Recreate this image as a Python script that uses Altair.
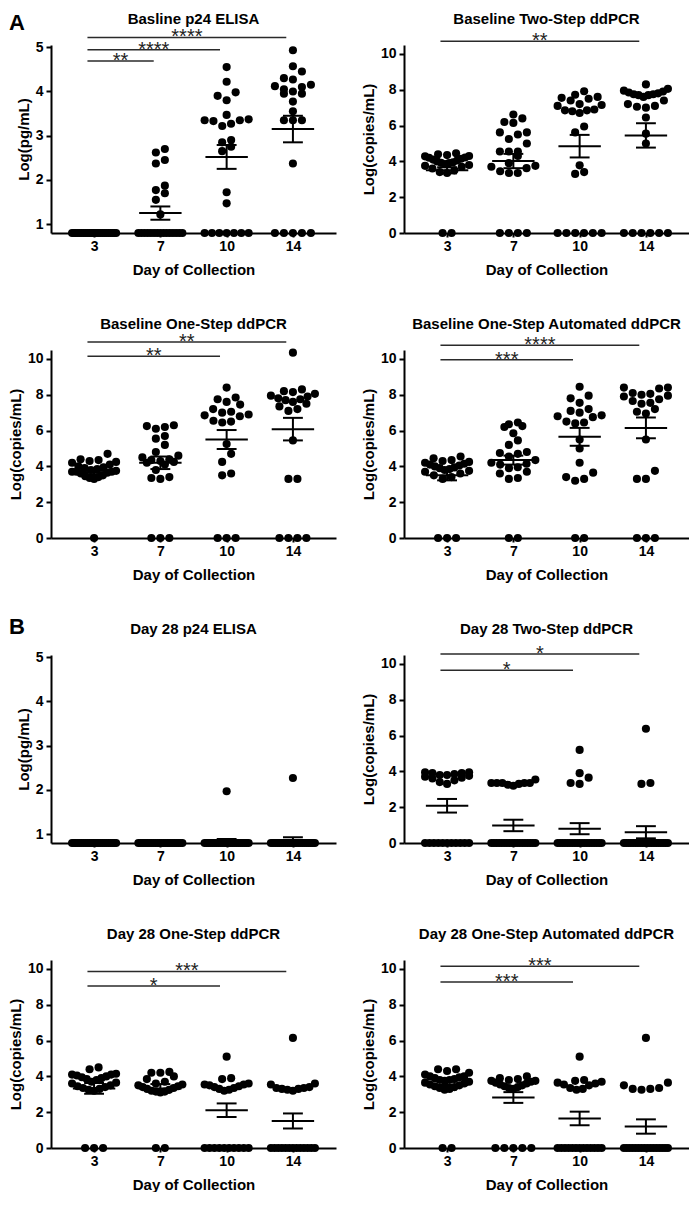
import altair as alt
import pandas as pd

FONT = "Liberation Sans"
DAYS = ["3", "7", "10", "14"]
W, H = 285, 188
XDOM = [-0.65, 3.65]

# ---------------- values ----------------
# A1  Basline p24 ELISA  (log pg/mL)
bp24_d3 = [0.8, 0.8, 0.8, 0.8, 0.8, 0.8, 0.8, 0.8, 0.8, 0.8, 0.8, 0.8,
           0.8, 0.8, 0.8, 0.8, 0.8, 0.8, 0.8, 0.8, 0.8, 0.8, 0.8, 0.8]
bp24_d7 = [2.70, 2.62, 2.45, 2.37, 1.87, 1.77, 1.70, 1.55, 1.22,
           0.8, 0.8, 0.8, 0.8, 0.8, 0.8, 0.8, 0.8, 0.8, 0.8, 0.8, 0.8, 0.8, 0.8, 0.8]
bp24_d10 = [4.55, 4.22, 3.98, 3.90, 3.80, 3.47, 3.37, 3.35, 3.33, 3.35, 3.22, 3.27,
            2.90, 2.85, 2.75, 2.65, 1.72, 1.47, 0.8, 0.8, 0.8, 0.8, 0.8, 0.8, 0.8]
bp24_d14 = [4.93, 4.57, 4.45, 4.30, 4.27, 4.15, 4.12, 4.10, 4.05, 4.00, 3.95, 3.95,
            3.77, 3.55, 3.35, 3.35, 3.35, 2.37, 0.8, 0.8, 0.8, 0.8, 0.8]
bp24_mean = [0.80, 1.25, 2.52, 3.15]
bp24_sem = [0.0, 0.15, 0.27, 0.30]

# A2  Baseline Two-Step ddPCR
b2s_d3 = [4.45, 4.40, 4.35, 4.30, 4.28, 4.22, 4.20, 4.15, 4.10, 4.05, 4.00, 3.95,
          3.92, 3.90, 3.85, 3.80, 3.75, 3.70, 3.60, 3.50, 3.40, 3.35, 0, 0]
b2s_d7 = [6.62, 6.40, 6.20, 6.15, 5.62, 5.62, 5.50, 5.25, 5.00, 4.55, 4.55, 4.55,
          4.30, 3.90, 3.75, 3.70, 3.62, 3.45, 3.35, 3.35, 0, 0, 0, 0]
b2s_d10 = [7.92, 7.72, 7.60, 7.55, 7.50, 7.40, 7.20, 7.15, 7.10, 6.90, 6.85, 6.85,
           6.80, 6.70, 5.95, 5.62, 3.78, 3.40, 3.30, 0, 0, 0, 0, 0, 0]
b2s_d14 = [8.30, 8.05, 7.95, 7.90, 7.85, 7.80, 7.75, 7.75, 7.70, 7.70, 7.60, 7.40,
           7.20, 7.10, 7.05, 7.00, 6.45, 5.55, 5.00, 0, 0, 0, 0, 0, 0]
b2s_mean = [3.50, 4.02, 4.85, 5.45]
b2s_sem = [0.17, 0.40, 0.63, 0.68]

# A3  Baseline One-Step ddPCR
b1s_d3 = [4.70, 4.40, 4.35, 4.30, 4.25, 4.20, 4.10, 4.00, 3.95, 3.90, 3.85, 3.80,
          3.75, 3.70, 3.70, 3.70, 3.65, 3.60, 3.50, 3.45, 3.40, 3.35, 3.30, 0]
b1s_d7 = [6.30, 6.25, 6.20, 6.10, 5.70, 5.55, 5.20, 4.80, 4.60, 4.50, 4.40, 4.35,
          4.30, 4.25, 4.20, 4.10, 3.80, 3.40, 3.35, 3.30, 0, 0, 0]
b1s_d10 = [8.40, 7.85, 7.75, 7.60, 7.45, 7.20, 7.05, 7.00, 6.90, 6.85, 6.80, 6.55,
           6.50, 6.45, 5.25, 4.70, 4.25, 3.60, 3.50, 0, 0, 0]
b1s_d14 = [10.35, 8.30, 8.20, 8.15, 8.05, 7.95, 7.90, 7.80, 7.75, 7.70, 7.60, 7.50,
           7.35, 7.20, 7.10, 5.45, 3.30, 3.30, 0, 0, 0, 0]
b1s_mean = [3.65, 4.20, 5.50, 6.08]
b1s_sem = [0.10, 0.35, 0.53, 0.63]

# A4  Baseline One-Step Automated ddPCR
b1a_d3 = [4.55, 4.45, 4.35, 4.30, 4.25, 4.20, 4.15, 4.10, 4.05, 4.00, 3.95, 3.90,
          3.85, 3.80, 3.75, 3.70, 3.60, 3.50, 3.40, 3.30, 0, 0, 0]
b1a_d7 = [6.45, 6.35, 6.25, 6.20, 5.85, 5.45, 5.20, 4.80, 4.75, 4.70, 4.55, 4.35,
          4.20, 4.15, 4.10, 3.95, 3.90, 3.70, 3.60, 3.35, 3.30, 0, 0]
b1a_d10 = [8.45, 7.95, 7.80, 7.55, 7.20, 7.10, 7.00, 6.85, 6.80, 6.75, 6.50, 6.45,
           6.40, 5.50, 5.00, 4.20, 3.65, 3.40, 3.30, 3.20, 0, 0]
b1a_d14 = [8.40, 8.40, 8.35, 8.10, 8.05, 8.00, 7.95, 7.90, 7.75, 7.65, 7.55, 7.50,
           7.20, 7.05, 6.95, 5.50, 3.75, 3.30, 3.30, 0, 0, 0]
b1a_mean = [3.50, 4.35, 5.65, 6.15]
b1a_sem = [0.28, 0.25, 0.50, 0.58]

# B1  Day 28 p24 ELISA
dp24_d3 = [0.8, 0.8, 0.8, 0.8, 0.8, 0.8, 0.8, 0.8, 0.8, 0.8, 0.8, 0.8,
           0.8, 0.8, 0.8, 0.8, 0.8, 0.8, 0.8, 0.8, 0.8, 0.8, 0.8, 0.8]
dp24_d7 = [0.8, 0.8, 0.8, 0.8, 0.8, 0.8, 0.8, 0.8, 0.8, 0.8, 0.8, 0.8,
           0.8, 0.8, 0.8, 0.8, 0.8, 0.8, 0.8, 0.8, 0.8, 0.8, 0.8, 0.8]
dp24_d10 = [1.97, 0.8, 0.8, 0.8, 0.8, 0.8, 0.8, 0.8, 0.8, 0.8, 0.8, 0.8,
            0.8, 0.8, 0.8, 0.8, 0.8, 0.8, 0.8, 0.8, 0.8, 0.8, 0.8, 0.8]
dp24_d14 = [2.27, 0.8, 0.8, 0.8, 0.8, 0.8, 0.8, 0.8, 0.8, 0.8, 0.8, 0.8,
            0.8, 0.8, 0.8, 0.8, 0.8, 0.8, 0.8, 0.8, 0.8, 0.8, 0.8]
dp24_mean = [0.80, 0.80, 0.86, 0.87]
dp24_sem = [0.0, 0.0, 0.03, 0.06]

# B2  Day 28 Two-Step ddPCR
d2s_d3 = [3.95, 3.95, 3.90, 3.90, 3.85, 3.80, 3.80, 3.75, 3.70, 3.65, 3.60, 3.50,
          3.40, 3.30, 0, 0, 0, 0, 0, 0, 0, 0, 0, 0, 0]
d2s_d7 = [3.55, 3.35, 3.35, 3.35, 3.35, 3.35, 3.30, 3.25, 3.20,
          0, 0, 0, 0, 0, 0, 0, 0, 0, 0, 0, 0, 0, 0, 0, 0, 0, 0]
d2s_d10 = [5.20, 3.90, 3.65, 3.35, 3.30,
           0, 0, 0, 0, 0, 0, 0, 0, 0, 0, 0, 0, 0, 0, 0, 0, 0, 0, 0]
d2s_d14 = [6.38, 3.35, 3.30,
           0, 0, 0, 0, 0, 0, 0, 0, 0, 0, 0, 0, 0, 0, 0, 0, 0, 0, 0, 0]
d2s_mean = [2.08, 0.98, 0.80, 0.60]
d2s_sem = [0.38, 0.32, 0.31, 0.34]

# B3  Day 28 One-Step ddPCR
d1s_d3 = [4.50, 4.40, 4.15, 4.10, 4.10, 4.05, 4.00, 3.95, 3.90, 3.85, 3.80, 3.70,
          3.65, 3.60, 3.50, 3.45, 3.40, 3.35, 3.30, 3.25, 3.20, 0, 0, 0]
d1s_d7 = [4.25, 4.20, 4.20, 4.00, 3.85, 3.70, 3.60, 3.55, 3.50, 3.45, 3.40, 3.35,
          3.30, 3.25, 3.20, 3.15, 3.15, 3.10, 0, 0]
d1s_d10 = [5.10, 3.90, 3.85, 3.60, 3.55, 3.55, 3.50, 3.45, 3.40, 3.35, 3.30, 3.25,
           3.20, 0, 0, 0, 0, 0, 0, 0, 0, 0, 0]
d1s_d14 = [6.15, 3.60, 3.55, 3.40, 3.35, 3.35, 3.30, 3.30, 3.25, 3.20,
           0, 0, 0, 0, 0, 0, 0, 0, 0, 0, 0, 0, 0]
d1s_mean = [3.33, 3.33, 2.11, 1.51]
d1s_sem = [0.30, 0.24, 0.38, 0.42]

# B4  Day 28 One-Step Automated ddPCR
d1a_d3 = [4.40, 4.40, 4.30, 4.20, 4.10, 4.00, 4.00, 3.95, 3.90, 3.85, 3.80, 3.80,
          3.75, 3.70, 3.65, 3.60, 3.55, 3.50, 3.45, 3.40, 3.35, 3.30, 3.25, 0, 0]
d1a_d7 = [4.00, 3.90, 3.85, 3.80, 3.75, 3.75, 3.70, 3.65, 3.60, 3.55, 3.50, 3.45,
          3.40, 3.35, 3.30, 0, 0, 0, 0, 0]
d1a_d10 = [5.10, 3.80, 3.75, 3.70, 3.65, 3.60, 3.55, 3.50, 3.35, 3.30, 3.25,
           0, 0, 0, 0, 0, 0, 0, 0, 0, 0, 0, 0, 0]
d1a_d14 = [6.15, 3.65, 3.50, 3.35, 3.30, 3.30, 3.25,
           0, 0, 0, 0, 0, 0, 0, 0, 0, 0, 0, 0, 0, 0, 0, 0]
d1a_mean = [3.52, 2.82, 1.65, 1.20]
d1a_sem = [0.25, 0.30, 0.38, 0.40]

# significance brackets: (from group, to group, level, label)
bp24_sig = [(0, 1, 4.69, "**"), (0, 2, 4.94, "****"), (0, 3, 5.22, "****")]
b2s_sig = [(0, 3, 10.71, "**")]
b1s_sig = [(0, 2, 10.15, "**"), (0, 3, 10.95, "**")]
b1a_sig = [(0, 2, 9.95, "***"), (0, 3, 10.76, "****")]
dp24_sig = []
d2s_sig = [(0, 2, 9.65, "*"), (0, 3, 10.56, "*")]
d1s_sig = [(0, 2, 9.05, "*"), (0, 3, 9.86, "***")]
d1a_sig = [(0, 2, 9.27, "***"), (0, 3, 10.15, "***")]

P24_DOM, P24_TICKS = [0.8, 5.05], [1, 2, 3, 4, 5]
PCR_DOM, PCR_TICKS = [0, 10.5], [0, 2, 4, 6, 8, 10]

PANELS = [
    ("Basline p24 ELISA", "Log(pg/mL)", P24_DOM, P24_TICKS,
     [bp24_d3, bp24_d7, bp24_d10, bp24_d14], bp24_mean, bp24_sem, bp24_sig, "A"),
    ("Baseline Two-Step ddPCR", "Log(copies/mL)", PCR_DOM, PCR_TICKS,
     [b2s_d3, b2s_d7, b2s_d10, b2s_d14], b2s_mean, b2s_sem, b2s_sig, None),
    ("Baseline One-Step ddPCR", "Log(copies/mL)", PCR_DOM, PCR_TICKS,
     [b1s_d3, b1s_d7, b1s_d10, b1s_d14], b1s_mean, b1s_sem, b1s_sig, None),
    ("Baseline One-Step Automated ddPCR", "Log(copies/mL)", PCR_DOM, PCR_TICKS,
     [b1a_d3, b1a_d7, b1a_d10, b1a_d14], b1a_mean, b1a_sem, b1a_sig, None),
    ("Day 28 p24 ELISA", "Log(pg/mL)", P24_DOM, P24_TICKS,
     [dp24_d3, dp24_d7, dp24_d10, dp24_d14], dp24_mean, dp24_sem, dp24_sig, "B"),
    ("Day 28 Two-Step ddPCR", "Log(copies/mL)", PCR_DOM, PCR_TICKS,
     [d2s_d3, d2s_d7, d2s_d10, d2s_d14], d2s_mean, d2s_sem, d2s_sig, None),
    ("Day 28 One-Step ddPCR", "Log(copies/mL)", PCR_DOM, PCR_TICKS,
     [d1s_d3, d1s_d7, d1s_d10, d1s_d14], d1s_mean, d1s_sem, d1s_sig, None),
    ("Day 28 One-Step Automated ddPCR", "Log(copies/mL)", PCR_DOM, PCR_TICKS,
     [d1a_d3, d1a_d7, d1a_d10, d1a_d14], d1a_mean, d1a_sem, d1a_sig, None),
]


def swarm(vals, ppu, spx, dot=9.0, maxhalf=22.0):
    """Prism-like scatter: rows of nearby values spread sideways."""
    rows = []
    for v in sorted(vals):
        if rows and (v - rows[-1][0]) * ppu < dot * 0.9:
            rows[-1].append(v)
        else:
            rows.append([v])
    out = []
    for row in rows:
        k = len(row)
        if k == 1:
            out.append((row[0], 0.0))
            continue
        sp = min(dot, 2 * maxhalf / (k - 1))
        pos = [(i - (k - 1) / 2) * sp for i in range(k)]
        pos.sort(key=lambda p: (abs(p), p))
        for v, p in zip(row, pos):
            out.append((v, p / spx))
    return out


def panel(title, ytitle, ydom, yticks, groups, means, sems, sigs, letter):
    ppu = H / (ydom[1] - ydom[0])
    spx = W / (XDOM[1] - XDOM[0])
    recs = []
    for gi, vals in enumerate(groups):
        for v, off in swarm(vals, ppu, spx):
            recs.append({"x": gi + off, "v": v})
    pts = pd.DataFrame(recs)

    xs = alt.Scale(domain=XDOM, nice=False, zero=False)
    ys = alt.Scale(domain=ydom, nice=False, zero=False)
    xa = alt.Axis(values=[0, 1, 2, 3], title="Day of Collection",
                  labelExpr="['3','7','10','14'][round(datum.value)]",
                  tickSize=4, titlePadding=9, labelPadding=2)
    ya = alt.Axis(values=yticks, title=ytitle, format="d",
                  tickSize=5, labelPadding=3, titlePadding=4)

    def X(f):
        return alt.X(f, type="quantitative", scale=xs, axis=xa)

    def Y(f):
        return alt.Y(f, type="quantitative", scale=ys, axis=ya)

    layers = [
        alt.Chart(pts).mark_circle(size=66, color="black", opacity=1)
        .encode(x=X("x"), y=Y("v"))
    ]

    stats = alt.Chart(pd.DataFrame({"g": [0, 1, 2, 3], "m": means, "s": sems})).transform_calculate(
        lo="datum.m - datum.s", hi="datum.m + datum.s",
        ml="datum.g - 0.32", mr="datum.g + 0.32",
        cl="datum.g - 0.15", cr="datum.g + 0.15")
    rule = dict(color="black", strokeWidth=2)
    layers += [
        stats.mark_rule(**rule).encode(x=X("ml"), x2="mr:Q", y=Y("m")),
        stats.mark_rule(**rule).encode(x=X("cl"), x2="cr:Q", y=Y("hi")),
        stats.mark_rule(**rule).encode(x=X("cl"), x2="cr:Q", y=Y("lo")),
        stats.mark_rule(**rule).encode(x=X("g"), y=Y("lo"), y2="hi:Q"),
    ]

    if sigs:
        sd = pd.DataFrame({"a": [s[0] for s in sigs], "b": [s[1] for s in sigs],
                           "lvl": [s[2] for s in sigs], "t": [s[3] for s in sigs]})
        sc = alt.Chart(sd).transform_calculate(
            xa="datum.a - 0.1", xb="datum.b - 0.1", xm="(datum.a + datum.b) / 2 - 0.1")
        layers += [
            sc.mark_rule(color="#2a2a2a", strokeWidth=1.5).encode(x=X("xa"), x2="xb:Q", y=Y("lvl")),
            sc.mark_text(font=FONT, fontSize=20, color="#222222", baseline="alphabetic", dy=6)
            .encode(x=X("xm"), y=Y("lvl"), text="t:N"),
        ]

    # invisible guard that keeps the top titles inside the page
    layers.append(
        alt.Chart(pd.DataFrame({"t": [title]})).mark_rule(strokeOpacity=0)
        .encode(x=alt.value(0), x2=alt.value(W), y=alt.value(-37)))
    layers.append(
        alt.Chart(pd.DataFrame({"t": [title]})).mark_text(
            font=FONT, fontSize=15, fontWeight="bold", color="black", baseline="middle")
        .encode(x=alt.value(W / 2), y=alt.value(-26), text="t:N"))
    if letter:
        layers.append(
            alt.Chart(pd.DataFrame({"t": [letter]})).mark_text(
                font=FONT, fontSize=22, fontWeight="bold", color="black",
                align="left", baseline="alphabetic")
            .encode(x=alt.value(-42), y=alt.value(-15 if letter == "A" else -21), text="t:N"))

    return alt.layer(*layers).properties(width=W, height=H)


charts = [panel(*p) for p in PANELS]

chart = alt.ConcatChart(
    concat=charts, columns=2, bounds="flush",
    spacing={"row": 117, "column": 68}, padding=0,
).configure_view(stroke=None).configure_axis(
    grid=False, domainColor="black", domainWidth=2, tickColor="black", tickWidth=2,
    labelFont=FONT, labelFontSize=14, labelFontWeight="bold", labelColor="black",
    titleFont=FONT, titleFontSize=15, titleFontWeight="bold", titleColor="black",
)

chart.save("out.html", embed_options={"renderer": "svg", "actions": False})
